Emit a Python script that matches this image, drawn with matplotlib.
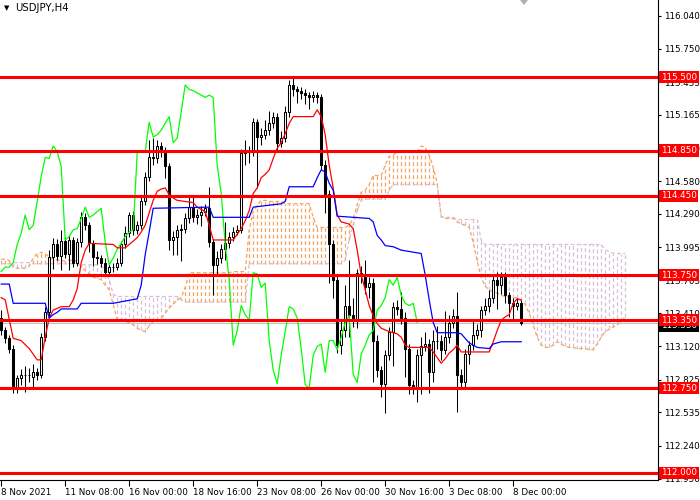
import matplotlib
matplotlib.use("Agg")
import numpy as np
import matplotlib.pyplot as plt
from matplotlib.patches import Polygon
from matplotlib.transforms import blended_transform_factory

plt.rcParams['font.family'] = ['DejaVu Sans']

# USDJPY H4 candles, bar 0 = left edge of the chart
opens = [
    113.37, 113.26, 113.19, 113.10, 112.75, 112.84, 112.87, 112.87, 112.85, 112.89,
    112.87, 113.20, 113.42, 113.91, 114.02, 113.92, 114.05, 113.94, 114.06, 113.86,
    114.04, 114.26, 114.19, 114.03, 113.91, 113.90, 113.86, 113.78, 113.82, 113.82,
    113.86, 114.02, 114.12, 114.28, 114.15, 114.19, 114.40, 114.62, 114.79, 114.78,
    114.89, 114.84, 114.71, 114.06, 114.09, 114.15, 114.16, 114.25, 114.35, 114.26,
    114.28, 114.31, 114.34, 114.04, 113.84, 113.90, 113.98, 114.03, 114.09, 114.13,
    114.15, 114.83, 114.84, 114.84, 115.10, 114.97, 114.99, 115.03, 115.09, 115.15,
    114.92, 114.96, 115.19, 115.43, 115.39, 115.38, 115.36, 115.34, 115.32, 115.34,
    115.32, 114.72, 114.47, 114.02, 113.71, 113.13, 113.26, 113.48, 113.40, 113.35,
    113.77, 113.76, 113.64, 113.68, 113.17, 112.91, 112.79, 113.04, 113.25, 113.47,
    113.45, 113.37, 113.10, 112.78, 112.75, 113.04, 113.12, 113.14, 112.89, 113.17,
    113.17, 113.09, 113.20, 113.33, 113.39, 112.87, 112.80, 113.05, 113.13, 113.22,
    113.26, 113.44, 113.48, 113.55, 113.71, 113.66, 113.73, 113.57, 113.50, 113.48,
    113.50,
]
highs = [
    113.44, 113.29, 113.22, 113.13, 112.87, 112.92, 112.95, 112.93, 112.96, 112.93,
    113.24, 113.47, 113.97, 114.08, 114.07, 114.15, 114.09, 114.10, 114.09, 114.08,
    114.31, 114.30, 114.22, 114.06, 113.96, 113.93, 113.90, 113.85, 113.86, 113.90,
    114.05, 114.18, 114.31, 114.32, 114.23, 114.44, 114.66, 114.94, 114.96, 114.94,
    114.93, 114.88, 114.74, 114.14, 114.19, 114.20, 114.30, 114.45, 114.46, 114.33,
    114.36, 114.38, 114.53, 114.07, 113.96, 114.02, 114.22, 114.13, 114.17, 114.19,
    114.86, 114.94, 114.89, 115.14, 115.13, 115.05, 115.12, 115.20, 115.19, 115.18,
    115.02, 115.24, 115.47, 115.51, 115.42, 115.41, 115.39, 115.37, 115.38, 115.37,
    115.35, 114.77, 114.50, 114.06, 113.74, 113.34, 113.66, 113.88, 113.55, 113.80,
    113.83, 113.88, 113.73, 113.72, 113.22, 112.95, 113.09, 113.29, 113.51, 113.53,
    113.60, 113.42, 113.14, 112.82, 113.10, 113.20, 113.25, 113.18, 113.26, 113.30,
    113.22, 113.43, 113.40, 113.45, 113.60, 112.92, 113.10, 113.17, 113.35, 113.32,
    113.48, 113.55, 113.62, 113.76, 113.78, 113.78, 113.78, 113.60, 113.55, 113.55,
    113.53,
]
lows = [
    113.22, 113.15, 113.06, 112.71, 112.71, 112.78, 112.72, 112.80, 112.75, 112.82,
    112.84, 113.17, 113.37, 113.80, 113.88, 113.79, 113.90, 113.79, 113.82, 113.83,
    114.00, 114.15, 113.95, 113.83, 113.85, 113.82, 113.75, 113.74, 113.78, 113.79,
    113.83, 113.99, 114.09, 114.10, 114.11, 114.16, 114.37, 114.58, 114.72, 114.74,
    114.79, 114.61, 113.97, 113.93, 113.93, 113.87, 114.12, 114.21, 114.22, 114.20,
    114.18, 114.27, 114.00, 113.57, 113.75, 113.86, 113.88, 113.99, 114.05, 114.10,
    114.12, 114.72, 114.74, 114.80, 114.52, 114.90, 114.95, 114.99, 115.05, 114.85,
    114.88, 114.93, 115.15, 115.33, 115.27, 115.31, 115.26, 115.22, 115.28, 115.27,
    114.68, 114.30, 113.68, 113.55, 113.06, 113.05, 113.20, 113.20, 113.29, 113.28,
    113.68, 113.58, 113.55, 112.80, 112.85, 112.67, 112.53, 113.00, 112.95, 113.40,
    113.32, 112.85, 112.70, 112.70, 112.63, 112.70, 113.08, 112.71, 112.80, 113.10,
    113.00, 113.05, 113.15, 113.28, 112.54, 112.74, 112.76, 112.96, 113.09, 113.18,
    113.20, 113.40, 113.42, 113.50, 113.45, 113.58, 113.50, 113.38, 113.35, 113.44,
    113.31,
]
closes = [
    113.26, 113.19, 113.10, 112.75, 112.84, 112.87, 112.87, 112.87, 112.89, 112.87,
    113.20, 113.42, 113.91, 114.02, 113.92, 114.05, 113.94, 114.06, 113.86, 114.04,
    114.26, 114.19, 114.03, 113.91, 113.90, 113.86, 113.78, 113.82, 113.82, 113.86,
    114.02, 114.12, 114.28, 114.15, 114.19, 114.40, 114.62, 114.79, 114.78, 114.89,
    114.84, 114.71, 114.06, 114.09, 114.15, 114.16, 114.25, 114.35, 114.26, 114.28,
    114.31, 114.34, 114.04, 113.84, 113.90, 113.98, 114.03, 114.09, 114.13, 114.15,
    114.83, 114.84, 114.84, 115.10, 114.97, 114.99, 115.03, 115.09, 115.15, 114.92,
    114.96, 115.19, 115.43, 115.39, 115.38, 115.36, 115.34, 115.32, 115.34, 115.32,
    114.72, 114.47, 114.02, 113.71, 113.13, 113.26, 113.48, 113.40, 113.35, 113.77,
    113.76, 113.64, 113.68, 113.17, 112.91, 112.79, 113.04, 113.25, 113.47, 113.45,
    113.37, 113.10, 112.78, 112.75, 113.04, 113.12, 113.14, 112.89, 113.17, 113.17,
    113.09, 113.20, 113.33, 113.39, 112.87, 112.80, 113.05, 113.13, 113.22, 113.26,
    113.44, 113.48, 113.55, 113.71, 113.66, 113.73, 113.57, 113.50, 113.48, 113.50,
    113.33,
]

# Ichimoku lines (bar index, price)
tenkan_bar = [0, 1, 3, 5, 7, 9, 10, 11, 12, 13, 15, 17, 18, 19, 20, 21, 22, 28, 29, 31,
              32, 33, 34, 35, 36, 37, 38, 39, 40, 41, 42, 43, 44, 46, 48, 49, 50, 51, 52, 53,
              58, 59, 60, 61, 62, 63, 64, 65, 66, 67, 68, 69, 70, 71, 72, 73, 78, 79, 80, 81,
              82, 83, 84, 85, 87, 88, 89, 90, 91, 92, 93, 94, 95, 97, 99, 100, 101, 102, 107, 108,
              109, 110, 111, 112, 113, 114, 115, 122, 123, 124, 125, 126, 127, 128, 129, 130]
tenkan_val = [113.55, 113.53, 113.19, 113.17, 113.10, 113.00, 113.00, 113.20, 113.37, 113.44,
              113.47, 113.47, 113.53, 113.63, 113.86, 113.97, 114.03, 114.02, 113.99, 113.99,
              114.02, 114.05, 114.08, 114.13, 114.19, 114.30, 114.41, 114.49, 114.51, 114.52,
              114.46, 114.43, 114.41, 114.40, 114.39, 114.35, 114.33, 114.31, 114.19, 114.06,
              114.06, 114.11, 114.16, 114.23, 114.32, 114.47, 114.52, 114.61, 114.64, 114.68,
              114.78, 114.87, 114.92, 115.00, 115.09, 115.15, 115.15, 115.21, 115.15, 114.99,
              114.72, 114.52, 114.28, 114.22, 114.20, 114.16, 113.97, 113.75, 113.62, 113.48,
              113.39, 113.32, 113.28, 113.25, 113.23, 113.20, 113.13, 113.11, 113.11, 113.07,
              113.02, 112.97, 113.01, 113.06, 113.09, 113.13, 113.07, 113.07, 113.16, 113.26,
              113.35, 113.38, 113.40, 113.50, 113.54, 113.53]

kijun_bar = [0, 2, 3, 11, 12, 13, 14, 15, 19, 20, 28, 31, 34, 35, 36, 37, 38, 52, 53, 62,
             63, 70, 71, 72, 78, 79, 80, 81, 82, 83, 84, 92, 93, 94, 95, 96, 98, 100, 105, 106,
             107, 108, 109, 114, 115, 117, 119, 122, 123, 125, 130]
kijun_val = [113.67, 113.67, 113.50, 113.50, 113.37, 113.40, 113.42, 113.45, 113.45, 113.50,
             113.50, 113.52, 113.54, 113.66, 113.93, 114.13, 114.34, 114.35, 114.26, 114.26,
             114.35, 114.38, 114.40, 114.53, 114.53, 114.61, 114.68, 114.66, 114.56, 114.50,
             114.27, 114.25, 114.22, 114.10, 114.06, 114.01, 114.00, 113.97, 113.94, 113.75,
             113.53, 113.33, 113.24, 113.24, 113.23, 113.15, 113.11, 113.10, 113.14, 113.16,
             113.16]

# Senkou span A / B, one value per bar (cloud runs 26 bars past the last candle)
span_a = [
    113.89, 113.89, 113.88, 113.82, 113.81, 113.81, 113.81, 113.83, 113.90, 113.94,
    113.95, 113.94, 113.91, 113.89, 113.88, 113.88, 113.87, 113.88, 113.88, 113.87,
    113.82, 113.79, 113.76, 113.73, 113.72, 113.71, 113.66, 113.62, 113.49, 113.35,
    113.34, 113.34, 113.33, 113.31, 113.28, 113.26, 113.25, 113.30, 113.34, 113.35,
    113.37, 113.41, 113.46, 113.49, 113.53, 113.55, 113.64, 113.77, 113.77, 113.77,
    113.77, 113.77, 113.77, 113.77, 113.77, 113.77, 113.77, 113.77, 113.78, 113.78,
    113.78, 113.78, 114.15, 114.31, 114.37, 114.41, 114.41, 114.40, 114.40, 114.40,
    114.40, 114.38, 114.38, 114.38, 114.38, 114.38, 114.38, 114.38, 114.26, 114.17,
    114.17, 114.17, 114.17, 114.17, 114.17, 114.17, 114.17, 114.19, 114.25, 114.37,
    114.48, 114.50, 114.55, 114.63, 114.63, 114.63, 114.72, 114.80, 114.81, 114.84,
    114.84, 114.84, 114.84, 114.84, 114.84, 114.89, 114.88, 114.81, 114.70, 114.56,
    114.27, 114.25, 114.25, 114.25, 114.22, 114.20, 114.19, 114.17, 114.04, 113.87,
    113.73, 113.65, 113.62, 113.60, 113.59, 113.57, 113.56, 113.56, 113.55, 113.55,
    113.52, 113.49, 113.41, 113.31, 113.20, 113.13, 113.11, 113.11, 113.13, 113.16,
    113.14, 113.12, 113.11, 113.11, 113.10, 113.10, 113.10, 113.09, 113.09, 113.14,
    113.20, 113.25, 113.27, 113.29, 113.31, 113.34, 113.38,
]
span_b = [
    113.85, 113.85, 113.85, 113.86, 113.86, 113.86, 113.86, 113.86, 113.85, 113.85,
    113.85, 113.85, 113.85, 113.85, 113.85, 113.85, 113.85, 113.85, 113.85, 113.85,
    113.84, 113.84, 113.84, 113.84, 113.84, 113.83, 113.79, 113.71, 113.58, 113.56,
    113.56, 113.56, 113.56, 113.56, 113.56, 113.56, 113.56, 113.56, 113.56, 113.56,
    113.56, 113.56, 113.56, 113.56, 113.56, 113.53, 113.51, 113.51, 113.51, 113.51,
    113.51, 113.51, 113.51, 113.51, 113.51, 113.51, 113.51, 113.51, 113.51, 113.51,
    113.51, 113.51, 113.85, 113.85, 113.85, 113.85, 113.85, 113.85, 113.85, 113.85,
    113.85, 113.85, 113.85, 113.85, 113.85, 113.85, 113.85, 113.85, 113.85, 113.85,
    113.85, 113.85, 113.85, 113.85, 113.85, 113.85, 113.88, 114.06, 114.19, 114.32,
    114.41, 114.42, 114.42, 114.42, 114.42, 114.42, 114.42, 114.50, 114.55, 114.55,
    114.55, 114.55, 114.55, 114.55, 114.55, 114.55, 114.55, 114.55, 114.55, 114.55,
    114.26, 114.26, 114.26, 114.26, 114.24, 114.24, 114.24, 114.24, 114.24, 114.24,
    114.06, 114.02, 114.02, 114.02, 114.02, 114.02, 114.02, 114.02, 114.02, 114.02,
    114.02, 114.02, 114.02, 114.02, 114.02, 114.02, 114.02, 114.02, 114.02, 114.02,
    114.02, 114.02, 114.02, 114.02, 114.02, 114.02, 114.02, 114.02, 114.02, 114.02,
    114.02, 113.97, 113.96, 113.94, 113.94, 113.94, 113.94,
]

levels = [115.500, 114.850, 114.450, 113.750, 113.350, 112.750, 112.000]
bid = 113.33
price_ticks = [116.040, 115.750, 115.455, 115.165, 114.870, 114.580, 114.290, 113.995,
               113.705, 113.410, 113.120, 112.825, 112.535, 112.240, 111.950]
date_pos = [0, 16, 32, 48, 64, 80, 96, 112, 128]
date_labels = ["8 Nov 2021", "11 Nov 08:00", "16 Nov 00:00", "18 Nov 16:00", "23 Nov 08:00",
               "26 Nov 00:00", "30 Nov 16:00", "3 Dec 08:00", "8 Dec 00:00"]
chikou_shift = 26

o = np.array(opens)
h = np.array(highs)
l = np.array(lows)
c = np.array(closes)
bars = np.arange(len(c))
sa = np.array(span_a)
sb = np.array(span_b)
cx = np.arange(len(sa))

fig = plt.figure(figsize=(7, 5), dpi=100)
ax = fig.add_axes([0, 20 / 500, 658 / 700, 480 / 500])
ax.set_xlim(-0.3, 164.2)
ax.set_ylim(111.938, 116.181)

# kumo hatch + span lines
dash = (0, (3, 2.2))
up = sa >= sb
ax.vlines(cx[up], sb[up], sa[up], colors="#F4A460", linestyles=dash, linewidth=0.9, zorder=1)
ax.vlines(cx[~up], sa[~up], sb[~up], colors="#D8BFD8", linestyles=dash, linewidth=0.9, zorder=1)
ax.plot(cx, sa, color="#F4A460", ls=(0, (3, 2)), lw=0.9, zorder=1)
ax.plot(cx, sb, color="#D8BFD8", ls=(0, (3, 2)), lw=0.9, zorder=1)

ax.axhline(bid, color="#C0C0C0", lw=0.8, zorder=1)

# candles
ax.vlines(bars, l, h, color="black", lw=0.75, zorder=3)
rise = c >= o
lo = np.minimum(o, c)
hgt = np.abs(c - o)
ax.bar(bars[rise], hgt[rise], bottom=lo[rise], width=0.55, facecolor="white",
       edgecolor="black", linewidth=0.75, zorder=4)
ax.bar(bars[~rise], hgt[~rise], bottom=lo[~rise], width=0.55, facecolor="black",
       edgecolor="black", linewidth=0.75, zorder=4)

# chikou, tenkan, kijun
ax.plot(bars[chikou_shift:] - chikou_shift, c[chikou_shift:], color="#00FF00", lw=0.9, zorder=5)
ax.plot(tenkan_bar, tenkan_val, color="red", lw=0.9, zorder=5)
ax.plot(kijun_bar, kijun_val, color="blue", lw=0.9, zorder=5)

# support / resistance levels
trans = blended_transform_factory(ax.transAxes, ax.transData)
for lv in levels:
    ax.axhline(lv, color="red", lw=2.2, zorder=6)
for lv in levels:
    ax.annotate(f"{lv:.3f}", xy=(1, lv), xycoords=trans, xytext=(3, 0),
                textcoords="offset pixels", ha="left", va="center", color="white",
                fontsize=6.3, annotation_clip=False, zorder=10,
                bbox=dict(boxstyle="square,pad=0.18", fc="red", ec="none"))
ax.annotate(f"{bid:.3f}", xy=(1, bid - 0.03), xycoords=trans, xytext=(3, 0),
            textcoords="offset pixels", ha="left", va="center", color="white",
            fontsize=6.3, annotation_clip=False, zorder=9,
            bbox=dict(boxstyle="square,pad=0.18", fc="black", ec="none"))

# axes look
for side in ["top", "left"]:
    ax.spines[side].set_visible(False)
ax.spines["right"].set_linewidth(0.8)
ax.spines["bottom"].set_linewidth(0.8)
ax.yaxis.tick_right()
ax.set_yticks(price_ticks)
ax.set_yticklabels([f"{t:.3f}" for t in price_ticks])
ax.set_xticks(date_pos)
ax.set_xticklabels(date_labels, ha="left")
ax.tick_params(axis="y", direction="out", length=2.5, width=0.8, pad=1.5, labelsize=6.3)
ax.tick_params(axis="x", direction="out", length=4, width=0.8, pad=2, labelsize=6.3)

fig.text(15 / 700, 1 - 8 / 500, "USDJPY,H4", fontsize=7.3, va="center", ha="left")
fig.text(4 / 700, 1 - 8 / 500, "\u25bc", fontsize=5, va="center", ha="left")
fig.patches.append(Polygon([[520 / 700, 1.0], [528 / 700, 1.0], [524 / 700, 1 - 5 / 500]],
                           closed=True, transform=fig.transFigure, fc="#B0B0B0", ec="none"))

fig.savefig("out.png", dpi=100)
